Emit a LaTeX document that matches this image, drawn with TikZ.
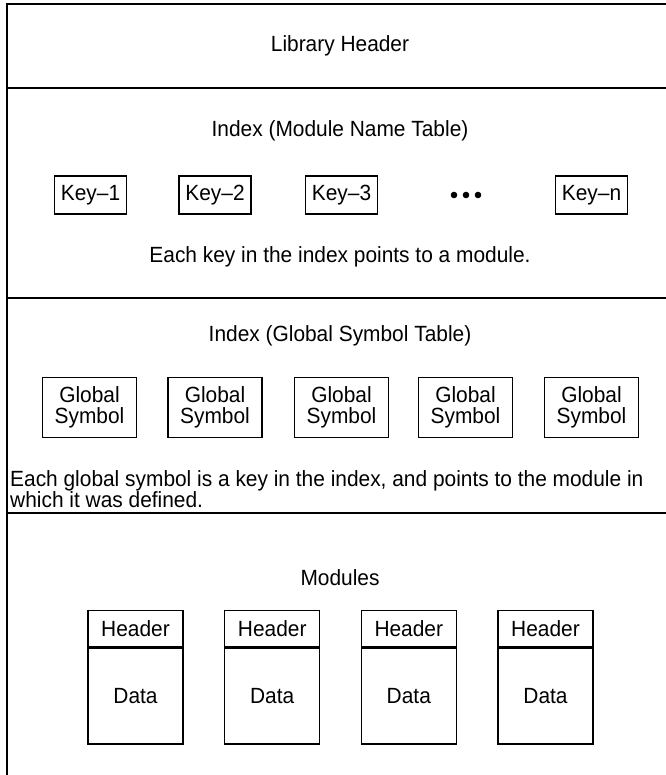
\documentclass[tikz,border=0pt]{standalone}
\usepackage{fontspec}
\setmainfont[FakeStretch=0.95]{Liberation Sans}
\newcommand\dtxt{\fontsize{22}{21}\selectfont}
\begin{document}
\begin{tikzpicture}[x=1pt,y=-1pt,
  frameline/.style={line width=1.8pt},
  lbl/.style={font=\dtxt,inner sep=0pt},
  keybox/.style={draw,line width=1.3pt,minimum width=72pt,minimum height=38pt,inner sep=0pt,font=\dtxt},
  gsbox/.style={draw,line width=1.3pt,minimum width=94pt,minimum height=60pt,inner sep=0pt,font=\dtxt,align=center},
  hdrbox/.style={draw,line width=1.3pt,minimum width=95pt,minimum height=36pt,inner sep=0pt,font=\dtxt,anchor=north},
  databox/.style={draw,line width=1.3pt,minimum width=95pt,minimum height=96pt,inner sep=0pt,font=\dtxt,anchor=north},
  dot/.style={circle,fill=black,inner sep=0pt,minimum size=6.6pt}
]
\useasboundingbox (0,0) rectangle (665,775);
% frame
\coordinate (tl) at (7,4);
\coordinate (tr) at (680,4);
\coordinate (bl) at (7,790);
\coordinate (d1l) at (7,88);  \coordinate (d1r) at (680,88);
\coordinate (d2l) at (7,298); \coordinate (d2r) at (680,298);
\coordinate (d3l) at (7,513); \coordinate (d3r) at (680,513);
\draw[frameline] (tr) -- (tl) -- (bl);
\draw[frameline] (d1l) -- (d1r);
\draw[frameline] (d2l) -- (d2r);
\draw[frameline] (d3l) -- (d3r);

\node[lbl] (libhdr) at (340,46) {Library Header};

\node[lbl] (idx1) at (340,131) {Index (Module Name Table)};
\node[keybox] (k1) at (90.5,195) {Key--1};
\node[keybox] (k2) at (215,195) {Key--2};
\node[keybox] (k3) at (341.5,195) {Key--3};
\node[dot] (dt1) at (454,195) {};
\node[dot] (dt2) at (466,195) {};
\node[dot] (dt3) at (478,195) {};
\node[keybox] (kn) at (591.5,195) {Key--n};
\node[lbl] (note1) at (340,257) {Each key in the index points to a module.};

\node[lbl] (idx2) at (340,336) {Index (Global Symbol Table)};
\node[gsbox] (g1) at (89.5,407.5) {Global\\Symbol};
\node[gsbox] (g2) at (215,407.5) {Global\\Symbol};
\node[gsbox] (g3) at (341.5,407.5) {Global\\Symbol};
\node[gsbox] (g4) at (465.5,407.5) {Global\\Symbol};
\node[gsbox] (g5) at (591.5,407.5) {Global\\Symbol};
\node[lbl,anchor=base west] (note2a) at (10,486) {Each global symbol is a key in the index, and points to the module in};
\node[lbl,anchor=base west] (note2b) at (10,507.5) {which it was defined.};

\node[lbl] (mods) at (340,578) {Modules};
\node[hdrbox] (h1) at (135.5,610) {Header};
\node[databox] (m1) at (h1.south) {Data};
\node[hdrbox] (h2) at (272.2,610) {Header};
\node[databox] (m2) at (h2.south) {Data};
\node[hdrbox] (h3) at (408.8,610) {Header};
\node[databox] (m3) at (h3.south) {Data};
\node[hdrbox] (h4) at (545.5,610) {Header};
\node[databox] (m4) at (h4.south) {Data};
\end{tikzpicture}
\end{document}
